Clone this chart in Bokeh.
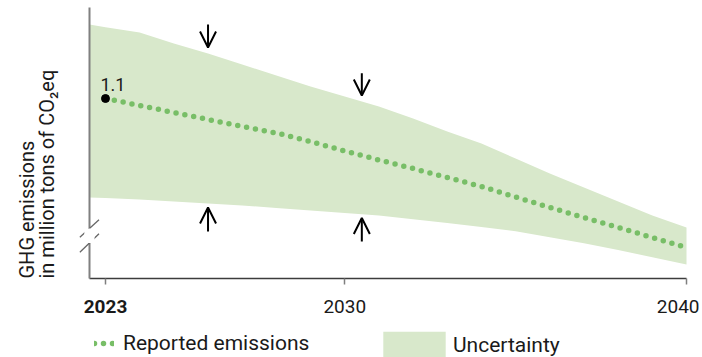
import math
from bokeh.plotting import figure
from bokeh.models import (Range1d, FixedTicker, Label, Arrow, OpenHead, BoxAnnotation,
                          Legend, LegendItem, ColumnDataSource)
from bokeh.embed import file_html
from bokeh.resources import INLINE

# ---------------- data ----------------
years = [2023, 2024, 2025, 2026, 2027, 2028, 2029, 2030, 2031, 2032,
         2033, 2034, 2035, 2036, 2037, 2038, 2039, 2040]
emissions = [1.10, 1.072, 1.044, 1.016, 0.988, 0.962, 0.928, 0.890, 0.854, 0.820,
             0.784, 0.748, 0.706, 0.664, 0.624, 0.584, 0.544, 0.504]

band_years = [2022.53, 2023, 2024, 2025, 2026, 2027, 2028, 2029, 2030, 2031, 2032,
              2033, 2034, 2035, 2036, 2037, 2038, 2039, 2040]
band_high = [1.396, 1.385, 1.364, 1.320, 1.280, 1.236, 1.192, 1.148, 1.108, 1.068, 1.020,
             0.968, 0.920, 0.860, 0.800, 0.744, 0.688, 0.632, 0.584]
band_low = [0.704, 0.702, 0.696, 0.688, 0.680, 0.672, 0.662, 0.652, 0.642, 0.632, 0.617,
            0.602, 0.586, 0.569, 0.545, 0.521, 0.494, 0.465, 0.436]

tick_years = [2023, 2030, 2040]
tick_labels = ["2023", "2030", "2040"]

# arrows showing narrowing uncertainty
arrow_x = [2026, 2030.5, 2026, 2030.5]
arrow_from = [1.396, 1.201, 0.568, 0.528]
arrow_to = [1.304, 1.112, 0.664, 0.622]

# axis extents (data units)
X_AXIS = 2022.53          # where the y axis stands
Y_AXIS = 0.38             # where the x axis stands
Y_TOP = 1.464

# axis break marks
brk_x0 = [2022.25, 2022.25]
brk_x1 = [2022.81, 2022.81]
brk_y0 = [0.545, 0.485]
brk_y1 = [0.615, 0.559]

BAND = "#d8e8cb"
LINE = "#78be67"
TEXT = "#1a1a1a"
FONT = "Roboto"

p = figure(width=702, height=357, output_backend="svg", toolbar_location=None,
           x_range=Range1d(2019.928, 2040.468), y_range=Range1d(0.064, 1.492),
           min_border=0, min_border_left=0, min_border_right=0,
           min_border_top=0, min_border_bottom=0)
p.outline_line_color = None
p.xgrid.visible = False
p.ygrid.visible = False
p.background_fill_color = "white"
p.border_fill_color = "white"

# axes (placed at fixed data locations)
xa = p.xaxis[0]
xa.fixed_location = Y_AXIS
xa.bounds = (X_AXIS, tick_years[-1])
xa.ticker = FixedTicker(ticks=tick_years)
xa.major_label_overrides = {t: "" for t in tick_years}
xa.major_tick_in = 0
xa.major_tick_out = 6
xa.major_tick_line_color = "#7f7f7f"
xa.major_tick_line_width = 1.5
xa.minor_tick_line_color = None
xa.axis_line_color = "#3c3c3c"
xa.axis_line_width = 1.5

ya = p.yaxis[0]
ya.fixed_location = X_AXIS
ya.bounds = (Y_AXIS, Y_TOP)
ya.ticker = FixedTicker(ticks=[])
ya.major_tick_line_color = None
ya.minor_tick_line_color = None
ya.axis_line_color = "#808080"
ya.axis_line_width = 2

# band and line
band_r = p.varea(x=band_years, y1=band_low, y2=band_high, fill_color=BAND, fill_alpha=1)
line_r = p.line(years, emissions, line_color=LINE, line_width=5.5, line_dash="0 9",
                line_cap="round")
p.scatter([years[0]], [emissions[0]], size=8, color="black")

p.add_layout(Label(x=years[0], y=emissions[0], text=f"{emissions[0]:.1f}", x_offset=-5, y_offset=14,
                   text_font=FONT, text_font_size="18px", text_color=TEXT,
                   text_baseline="alphabetic", text_align="left"))

# arrows
asrc = ColumnDataSource(dict(x=arrow_x, y0=arrow_from, y1=arrow_to))
p.add_layout(Arrow(end=OpenHead(size=16, line_width=2, line_color="black"),
                   x_start="x", y_start="y0", x_end="x", y_end="y1", source=asrc,
                   line_width=2, line_color="black"))

# axis break
p.add_layout(BoxAnnotation(left=2022.38, right=2022.68, bottom=0.522, top=0.58,
                           fill_color="white", fill_alpha=1, line_color=None, level="overlay"))
p.segment(x0=brk_x0, y0=brk_y0, x1=brk_x1, y1=brk_y1, line_width=1.3,
          line_color="#666666", level="overlay")

# tick labels
for t, lab in zip(tick_years, tick_labels):
    bold = (t == tick_years[0])
    last = (t == tick_years[-1])
    p.add_layout(Label(x=t, y=Y_AXIS, text=lab, y_offset=-28,
                       x_offset=13 if last else 0,
                       text_align="right" if last else "center",
                       text_baseline="alphabetic", text_font=FONT, text_font_size="19px",
                       text_font_style="bold" if bold else "normal", text_color=TEXT))

# y axis title (two lines, bottom aligned)
for txt, off in [("GHG emissions", -62), ("in million tons of CO\u2082eq", -42)]:
    p.add_layout(Label(x=X_AXIS, y=Y_AXIS, text=txt, x_offset=off, angle=math.pi / 2,
                       text_align="left", text_baseline="alphabetic", text_font=FONT,
                       text_font_size="20px", text_color=TEXT))

# legends
common = dict(orientation="horizontal", padding=0, margin=0, border_line_color=None,
              background_fill_alpha=0, label_text_font=FONT, label_text_font_size="21px",
              label_text_color=TEXT)
leg1 = Legend(items=[LegendItem(label="Reported emissions", renderers=[line_r])],
              location=(94, 2), glyph_width=20, glyph_height=20, label_height=20,
              label_standoff=9, **common)
leg2 = Legend(items=[LegendItem(label="Uncertainty", renderers=[band_r])],
              location=(375, -4), glyph_width=78, glyph_height=33, label_height=33,
              label_standoff=0, **common)
p.add_layout(leg1)
p.add_layout(leg2)

open("out.html", "w").write(file_html(p, INLINE))
